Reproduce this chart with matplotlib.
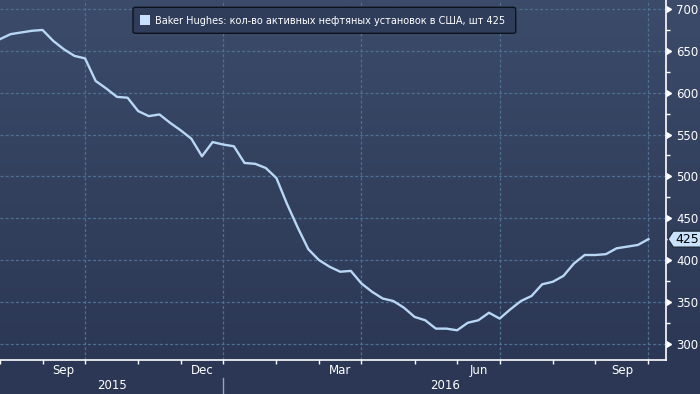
import numpy as np
import pandas as pd
import matplotlib
matplotlib.use("Agg")
import matplotlib.pyplot as plt
import matplotlib.transforms as mtransforms
from matplotlib.patches import FancyBboxPatch, Rectangle, Polygon
from matplotlib.colors import LinearSegmentedColormap

plt.rcParams['font.family'] = ['DejaVu Sans']
plt.rcParams['lines.scale_dashes'] = False

# ---- data ----
dates = pd.date_range('2015-07-31', periods=62, freq='7D')
rigs = [664, 670, 672, 674, 675, 662, 652, 644, 641, 614, 605, 595, 594, 578,
        572, 574, 564, 555, 545, 524, 541, 538, 536, 516, 515, 510, 498, 467,
        439, 413, 400, 392, 386, 387, 372, 362, 354, 351, 343, 332, 328, 318,
        318, 316, 325, 328, 337, 330, 341, 351, 357, 371, 374, 381, 396, 406,
        406, 407, 414, 416, 418, 425]
series_label = "Baker Hughes: кол-во активных нефтяных установок в США, шт 425"
last_value = "425"
y_ticks = [300, 350, 400, 450, 500, 550, 600, 650, 700]
y_minor = [325, 375, 425, 475, 525, 575, 625, 675]
month_names = {9: 'Sep', 12: 'Dec', 3: 'Mar', 6: 'Jun'}

W, H = 700, 394
fig = plt.figure(figsize=(W / 100, H / 100), dpi=100)
fig.patch.set_facecolor('#2b3755')

# background gradient
bg = fig.add_axes([0, 0, 1, 1], zorder=0)
bg.axis('off')
cmap = LinearSegmentedColormap.from_list('bg', ['#3c4b6a', '#33415f', '#2b3755'])
grad = np.linspace(0, 1, 256).reshape(-1, 1)
bg.imshow(grad, aspect='auto', cmap=cmap, extent=[0, 1, 34 / H, 1], origin='upper')
bg.add_patch(Rectangle((0, 0), 1, 34 / H, color='#2b3755', transform=bg.transAxes))
bg.set_xlim(0, 1)
bg.set_ylim(0, 1)

ax_left, ax_right = 0, 666 / W
ax_bottom, ax_top = 34 / H, 1.0
ax = fig.add_axes([ax_left, ax_bottom, ax_right - ax_left, ax_top - ax_bottom], zorder=1)
ax.patch.set_alpha(0)

x = np.arange(len(rigs))
ax.set_xlim(0.48, 62.65)
ax.set_ylim(280.5, 710.8)

# month-end ticks
s = pd.Series(x, index=dates)
month_end = s.groupby([dates.year, dates.month]).max()
tick_idx = list(month_end.values)
tick_months = [m for (_, m) in month_end.index]
tick_years = [y for (y, _) in month_end.index]

ax.set_xticks(tick_idx)
ax.set_xticklabels([])
ax.tick_params(axis='x', direction='out', length=3, width=1, color='white')

# grid
for v in y_ticks:
    ax.axhline(v, color='#4d7090', lw=0.9, dashes=(2.2, 1.5), zorder=1)
for i, (ti, m) in enumerate(zip(tick_idx, tick_months)):
    if m in month_names:
        ax.axvline(ti, color='#4d7090', lw=0.9, dashes=(2.2, 1.5), zorder=1)

# line
ax.plot(x, rigs, color='#b8d7f5', lw=1.7, zorder=3, solid_joinstyle='round')

# spines
for sp in ['left', 'top']:
    ax.spines[sp].set_visible(False)
for sp in ['right', 'bottom']:
    ax.spines[sp].set_color('white')
    ax.spines[sp].set_linewidth(1.2)

# y axis on right
ax.yaxis.tick_right()
ax.set_yticks(y_ticks)
ax.set_yticklabels([str(v) for v in y_ticks])
ax.set_yticks(y_minor, minor=True)
ax.tick_params(axis='y', which='major', length=0, pad=7.5, labelsize=8.5, labelcolor='white')
ax.tick_params(axis='y', which='minor', length=3, width=1, color='white', direction='out')
trans_y = mtransforms.blended_transform_factory(ax.transAxes, ax.transData)
ax.plot([1.0] * len(y_ticks), y_ticks, linestyle='none', marker=9, markersize=5,
        color='white', transform=trans_y, clip_on=False, zorder=5)

# month labels
trans_x = mtransforms.blended_transform_factory(ax.transData, ax.transAxes)
for i in range(1, len(tick_idx)):
    m = tick_months[i]
    if m in month_names:
        xc = (tick_idx[i - 1] + tick_idx[i]) / 2
        ax.text(xc, -0.030, month_names[m], transform=trans_x, ha='center', va='center',
                color='white', fontsize=8.5, clip_on=False)

# year labels and separator
dec_idx = [ti for ti, m, y in zip(tick_idx, tick_months, tick_years) if m == 12 and y == 2015][0]
xl, xr = ax.get_xlim()
ax.text((xl + dec_idx) / 2, -0.072, '2015', transform=trans_x, ha='center', va='center',
        color='white', fontsize=8.5, clip_on=False)
ax.text((dec_idx + xr) / 2, -0.072, '2016', transform=trans_x, ha='center', va='center',
        color='white', fontsize=8.5, clip_on=False)
ax.plot([dec_idx, dec_idx], [-0.049, -0.1], transform=trans_x, color='#9aa3b5', lw=1,
        clip_on=False)

# last value tag
hh = 9.5
tag = Polygon([(1.003, 425), (1.011, 425 + hh), (1.06, 425 + hh), (1.06, 425 - hh),
               (1.011, 425 - hh)], closed=True, facecolor='#c9e2fb', edgecolor='#1a2233',
              lw=0.8, transform=trans_y, clip_on=False, zorder=6)
ax.add_patch(tag)
ax.text(1.032, 425, last_value, transform=trans_y, ha='center', va='center', color='black',
        fontsize=9, clip_on=False, zorder=7)

# legend box
lx0, lx1 = 133 / W, 515.7 / W
ly0, ly1 = 1 - 33.3 / H, 1 - 7.3 / H
box = FancyBboxPatch((lx0, ly0), lx1 - lx0, ly1 - ly0,
                     boxstyle='round,pad=0,rounding_size=0.004',
                     transform=fig.transFigure, facecolor='#2f3d5b', edgecolor='#0d131e',
                     lw=1.0, zorder=8)
fig.patches.append(box)
fig.patches.append(Rectangle((140 / W, 1 - 25 / H), 10 / W, 10 / H, transform=fig.transFigure,
                             facecolor='#c6e0fd', edgecolor='none', zorder=9))
fig.text(155 / W, 1 - 20.5 / H, series_label, ha='left', va='center', color='white',
         fontsize=7.05, zorder=10)

fig.savefig('out.png', dpi=100, facecolor=fig.get_facecolor())
